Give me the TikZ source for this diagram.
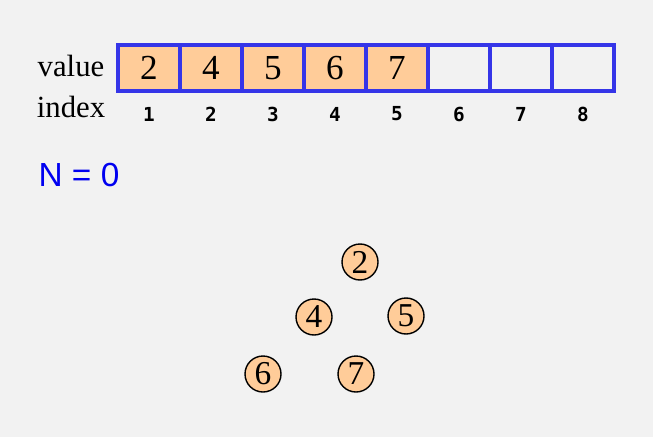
\documentclass[tikz,border=0pt]{standalone}
\usepackage{fontspec}
\setmainfont{Liberation Serif}
\setsansfont{Liberation Sans}
\setmonofont{DejaVu Sans Mono}
\definecolor{bgray}{HTML}{F2F2F2}
\definecolor{peach}{HTML}{FFCC99}
\definecolor{cellblue}{HTML}{3535E8}
\definecolor{nblue}{HTML}{0000F0}
\begin{document}
\begin{tikzpicture}[
  cell/.style={draw=cellblue, line width=1.8pt, minimum width=1.24cm, minimum height=0.92cm, inner sep=0pt, font=\fontsize{20}{20}\selectfont},
  full/.style={cell, fill=peach},
  idx/.style={font=\ttfamily\bfseries\fontsize{11}{11}\selectfont},
  lab/.style={font=\fontsize{17.5}{18}\selectfont},
  heap/.style={draw, circle, line width=0.8pt, fill=peach, minimum size=0.72cm, inner sep=0pt, font=\fontsize{19}{19}\selectfont}
]

\fill[bgray] (0,0) rectangle (13.06,8.74);
\useasboundingbox (0,0) rectangle (13.06,8.74);

% ARRAY %%%%%%%%%%%%%%%%%%%%%%%%%%%%%%%%%%%%%%%%%%%%%%%%%%%%%%%%%%%%%%%%%%

\node[full] (A1) at (2.98,7.38) {2};
\node[full] (A2) at (4.22,7.38) {4};
\node[full] (A3) at (5.46,7.38) {5};
\node[full] (A4) at (6.70,7.38) {6};
\node[full] (A5) at (7.94,7.38) {7};
\node[cell] (A6) at (9.18,7.38) {};
\node[cell] (A7) at (10.42,7.38) {};
\node[cell] (A8) at (11.66,7.38) {};

\node[idx] (I1) at (2.98,6.46) {1};
\node[idx] (I2) at (4.22,6.46) {2};
\node[idx] (I3) at (5.46,6.46) {3};
\node[idx] (I4) at (6.70,6.46) {4};
\node[idx] (I5) at (7.94,6.46) {5};
\node[idx] (I6) at (9.18,6.46) {6};
\node[idx] (I7) at (10.42,6.46) {7};
\node[idx] (I8) at (11.66,6.46) {8};

% ETIQUETTES

\node[lab] (value) at (1.42,7.42) {value};
\node[lab] (index) at (1.42,6.60) {index};

\node[font=\sffamily\fontsize{19}{19}\selectfont, color=nblue] (N) at (1.58,5.24) {N = 0};

% HEAP %%%%%%%%%%%%%%%%%%%%%%%%%%%%%%%%%%%%%%%%%%%%%%%%%%%%%%%%%%%%%%%%%%%

\node[heap] (H1) at (7.20,3.50) {2};
\node[heap] (H2) at (6.28,2.40) {4};
\node[heap] (H3) at (8.12,2.42) {5};
\node[heap] (H4) at (5.26,1.26) {6};
\node[heap] (H5) at (7.12,1.26) {7};

\end{tikzpicture}
\end{document}
